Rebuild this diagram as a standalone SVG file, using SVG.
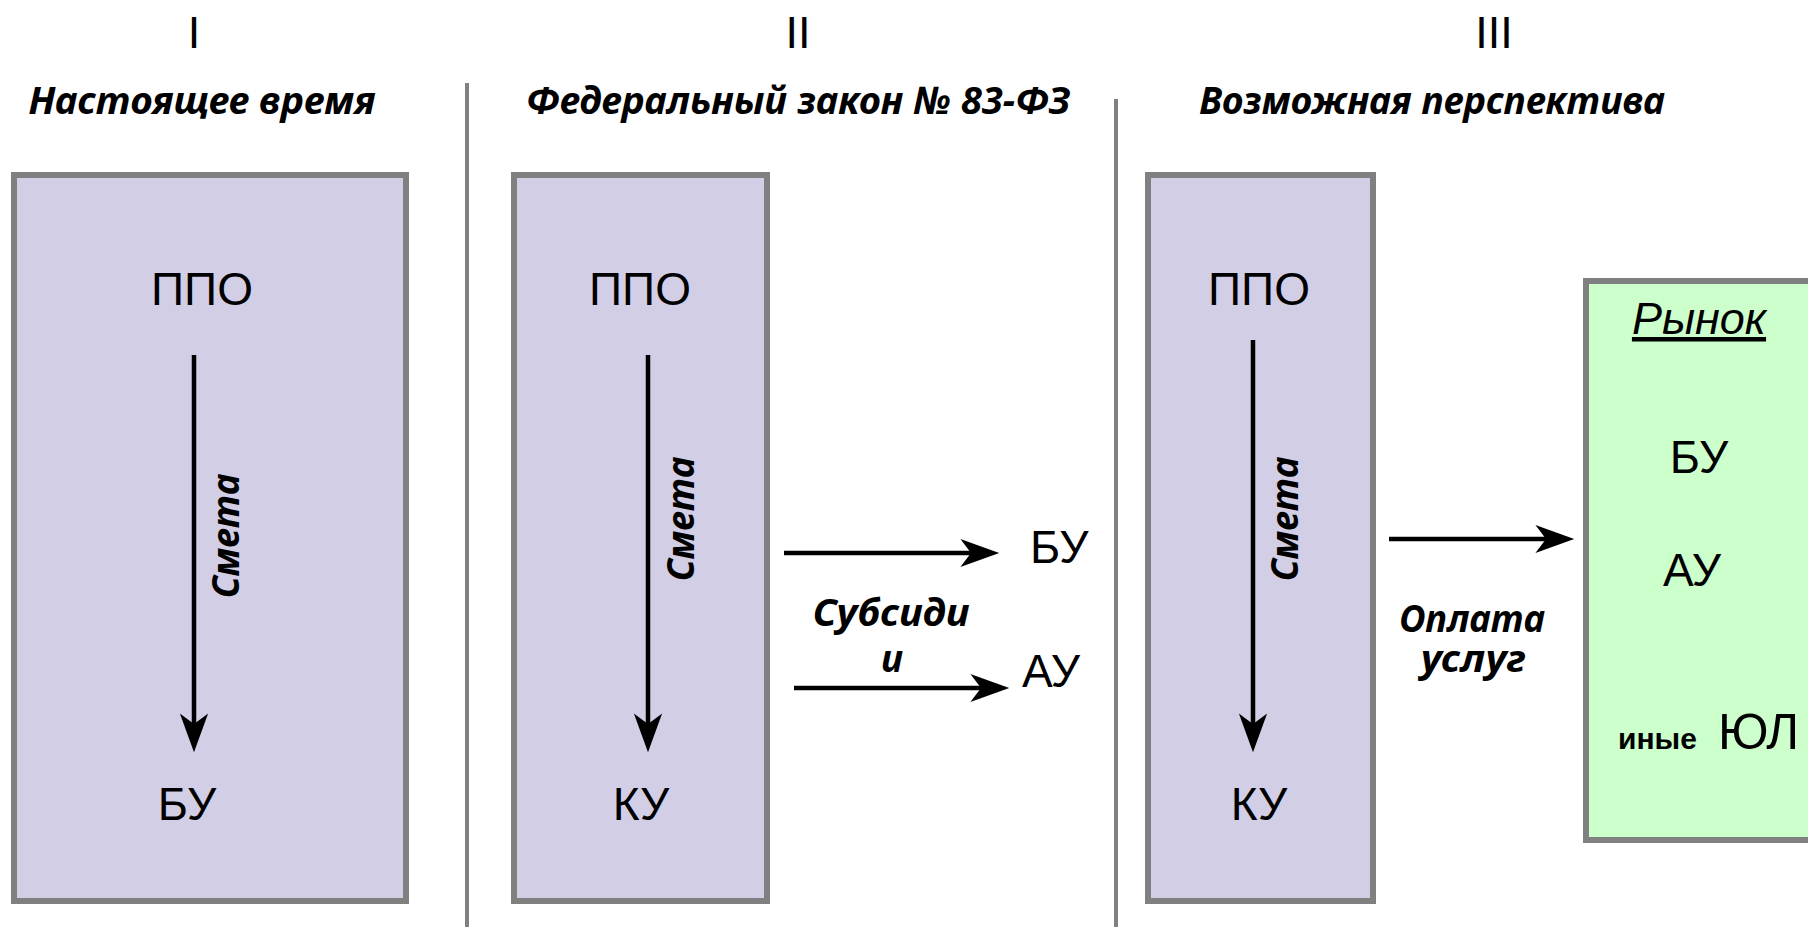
<svg xmlns="http://www.w3.org/2000/svg" width="1808" height="927" viewBox="0 0 1808 927">
<defs>
<style>
.box{fill:#D2CEE6;stroke:#808080;stroke-width:6}
.gbox{fill:#CCFFCC;stroke:#808080;stroke-width:6}
.div{stroke:#808080;stroke-width:4}
.t{font-family:"Liberation Sans",Arial,sans-serif;fill:#000;text-anchor:middle}
.st{text-anchor:start}
.big{font-size:46px}
.rn{font-size:45px}
.hd{font-family:"Noto Sans","Liberation Sans",sans-serif;font-weight:bold;font-style:italic;font-size:38px;text-anchor:middle}
.sm{font-family:"Noto Sans","Liberation Sans",sans-serif;font-weight:bold;font-style:italic;font-size:38px;text-anchor:middle}
.lbl{font-family:"Noto Sans","Liberation Sans",sans-serif;font-weight:bold;font-style:italic;font-size:37px;text-anchor:middle}
.ar{stroke:#000;stroke-width:4.5;fill:none}
</style>
<marker id="ah" markerUnits="userSpaceOnUse" markerWidth="40" markerHeight="30" refX="9" refY="12" orient="auto" viewBox="0 0 34 24">
<path d="M0,0 L33,12 L0,24 L9,12 Z" fill="#000"/>
</marker>
</defs>
<rect width="1808" height="927" fill="#fff"/>
<g id="dividers">
<line class="div" x1="467" y1="83" x2="467" y2="927"/>
<line class="div" x1="1116" y1="99" x2="1116" y2="927"/>
</g>
<g id="titles">
<text class="t rn" x="194" y="48">I</text>
<text class="t rn" x="798" y="48">II</text>
<text class="t rn" x="1494" y="48">III</text>
<text class="hd" x="202" y="114" textLength="347" lengthAdjust="spacingAndGlyphs">Настоящее время</text>
<text class="hd" x="798" y="114" textLength="544" lengthAdjust="spacingAndGlyphs">Федеральный закон № 83-ФЗ</text>
<text class="hd" x="1432" y="114" textLength="466" lengthAdjust="spacingAndGlyphs">Возможная перспектива</text>
</g>
<g id="box1">
<rect class="box" x="14" y="175" width="392" height="726"/>
<text class="t big" x="202" y="305">ППО</text>
<text class="t big" x="187" y="820">БУ</text>
</g>
<g id="box2">
<rect class="box" x="514" y="175" width="253" height="726"/>
<text class="t big" x="640" y="305">ППО</text>
<text class="t big" x="641" y="820">КУ</text>
</g>
<g id="box3">
<rect class="box" x="1148" y="175" width="225" height="726"/>
<text class="t big" x="1259" y="305">ППО</text>
<text class="t big" x="1259" y="820">КУ</text>
</g>
<g id="market">
<rect class="gbox" x="1586" y="281" width="240" height="559"/>
<text class="t" x="1699" y="334" font-size="45" font-style="italic" text-decoration="underline">Рынок</text>
<text class="t big" x="1699" y="473">БУ</text>
<text class="t big" x="1692" y="586">АУ</text>
<text class="t st" x="1618" y="749" font-size="30" font-weight="bold">иные</text>
<text class="t st" x="1718" y="749" font-size="50">ЮЛ</text>
</g>
<g id="bu2">
<text class="t big st" x="1030" y="563">БУ</text>
</g>
<g id="au2">
<text class="t big st" x="1022" y="687">АУ</text>
</g>
<g id="connectors">
<line class="ar" x1="194" y1="355" x2="194" y2="724" marker-end="url(#ah)"/>
<line class="ar" x1="648" y1="355" x2="648" y2="724" marker-end="url(#ah)"/>
<line class="ar" x1="1253" y1="340" x2="1253" y2="724" marker-end="url(#ah)"/>
<line class="ar" x1="784" y1="553" x2="971" y2="553" marker-end="url(#ah)"/>
<line class="ar" x1="794" y1="688" x2="981" y2="688" marker-end="url(#ah)"/>
<line class="ar" x1="1389" y1="539" x2="1546" y2="539" marker-end="url(#ah)"/>
<text class="sm" transform="translate(239,536) rotate(-90)" textLength="125" lengthAdjust="spacingAndGlyphs">Смета</text>
<text class="sm" transform="translate(694,519) rotate(-90)" textLength="125" lengthAdjust="spacingAndGlyphs">Смета</text>
<text class="sm" transform="translate(1298,519) rotate(-90)" textLength="125" lengthAdjust="spacingAndGlyphs">Смета</text>
<text class="lbl" x="891" y="626" textLength="157" lengthAdjust="spacingAndGlyphs">Субсиди</text>
<text class="lbl" x="892" y="672">и</text>
<text class="lbl" x="1472" y="632" textLength="146" lengthAdjust="spacingAndGlyphs">Оплата</text>
<text class="lbl" x="1473" y="672" textLength="105" lengthAdjust="spacingAndGlyphs">услуг</text>
</g>
</svg>
